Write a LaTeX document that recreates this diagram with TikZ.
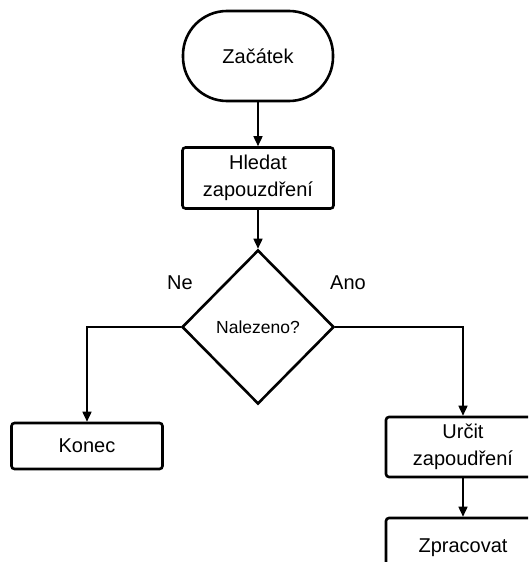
\documentclass[tikz,border=0pt]{standalone}
\usepackage{fontspec}
\setmainfont{Liberation Sans}
\usetikzlibrary{arrows.meta,shapes.geometric}
\begin{document}
\begin{tikzpicture}[x=1pt,y=-1pt,
  box/.style={draw, line width=2.6pt, rounded corners=3pt, minimum width=151pt, align=center, font=\fontsize{20}{27}\selectfont, inner sep=0pt},
  term/.style={draw, line width=2.6pt, rounded corners=44pt, minimum width=150pt, minimum height=90pt, font=\fontsize{20}{27}\selectfont},
  dec/.style={draw, diamond, line width=2.6pt, minimum width=152pt, minimum height=154pt, inner sep=0pt, font=\fontsize{17.5}{22}\selectfont},
  conn/.style={line width=1.6pt, -{Triangle[length=10pt,width=9pt]}},
  lbl/.style={font=\fontsize{20}{24}\selectfont}]
\useasboundingbox (0,0) rectangle (528,562);
\clip (0,0) rectangle (528,562);
\node[term] (start) at (258,56) {Začátek};
\node[box, minimum height=61pt] (hledat) at (258,178) {Hledat\\zapouzdření};
\node[dec] (dec) at (258,327) {Nalezeno?};
\node[box, minimum height=46pt] (konec) at (87,446) {Konec};
\node[box, minimum width=154pt, minimum height=60pt] (urcit) at (463,447) {Určit\\zapoudření};
\node[box, minimum width=154pt, minimum height=60pt] (zprac) at (463,548) {Zpracovat};
\node[lbl] (ne) at (180,283) {Ne};
\node[lbl] (ano) at (348,283) {Ano};
\draw[conn] (start) -- (hledat);
\draw[conn] (hledat) -- (dec);
\draw[conn] (dec.west) -| (konec.north);
\draw[conn] (dec.east) -| (urcit.north);
\draw[conn] (urcit) -- (zprac);
\end{tikzpicture}
\end{document}
